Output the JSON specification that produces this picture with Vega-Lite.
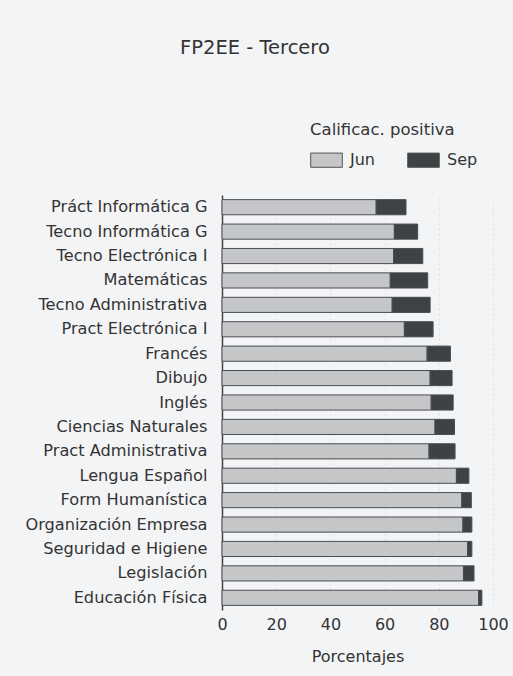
{
  "$schema": "https://vega.github.io/schema/vega-lite/v6.json",
  "width": 271,
  "height": 415,
  "autosize": {"type": "none"},
  "padding": {"left": 222, "top": 195, "right": 20, "bottom": 66},
  "background": "#f3f4f6",
  "config": {"view": {"stroke": null}},
  "title": {
    "text": "FP2EE - Tercero",
    "anchor": "start",
    "frame": "group",
    "dx": -42,
    "offset": 64,
    "font": "DejaVu Sans",
    "fontSize": 19.5,
    "fontWeight": "normal",
    "color": "#333333"
  },
  "data": {
    "values": [
      {"Asignatura": "Práct Informática G", "Periodo": "Jun", "Porcentaje": 56.9},
      {"Asignatura": "Práct Informática G", "Periodo": "Sep", "Porcentaje": 11.0},
      {"Asignatura": "Tecno Informática G", "Periodo": "Jun", "Porcentaje": 63.6},
      {"Asignatura": "Tecno Informática G", "Periodo": "Sep", "Porcentaje": 8.6},
      {"Asignatura": "Tecno Electrónica I", "Periodo": "Jun", "Porcentaje": 63.3},
      {"Asignatura": "Tecno Electrónica I", "Periodo": "Sep", "Porcentaje": 10.8},
      {"Asignatura": "Matemáticas", "Periodo": "Jun", "Porcentaje": 62.1},
      {"Asignatura": "Matemáticas", "Periodo": "Sep", "Porcentaje": 13.8},
      {"Asignatura": "Tecno Administrativa", "Periodo": "Jun", "Porcentaje": 62.8},
      {"Asignatura": "Tecno Administrativa", "Periodo": "Sep", "Porcentaje": 14.0},
      {"Asignatura": "Pract Electrónica I", "Periodo": "Jun", "Porcentaje": 67.3},
      {"Asignatura": "Pract Electrónica I", "Periodo": "Sep", "Porcentaje": 10.6},
      {"Asignatura": "Francés", "Periodo": "Jun", "Porcentaje": 75.7},
      {"Asignatura": "Francés", "Periodo": "Sep", "Porcentaje": 8.6},
      {"Asignatura": "Dibujo", "Periodo": "Jun", "Porcentaje": 76.8},
      {"Asignatura": "Dibujo", "Periodo": "Sep", "Porcentaje": 8.1},
      {"Asignatura": "Inglés", "Periodo": "Jun", "Porcentaje": 77.2},
      {"Asignatura": "Inglés", "Periodo": "Sep", "Porcentaje": 8.1},
      {"Asignatura": "Ciencias Naturales", "Periodo": "Jun", "Porcentaje": 78.6},
      {"Asignatura": "Ciencias Naturales", "Periodo": "Sep", "Porcentaje": 7.2},
      {"Asignatura": "Pract Administrativa", "Periodo": "Jun", "Porcentaje": 76.4},
      {"Asignatura": "Pract Administrativa", "Periodo": "Sep", "Porcentaje": 9.6},
      {"Asignatura": "Lengua Español", "Periodo": "Jun", "Porcentaje": 86.5},
      {"Asignatura": "Lengua Español", "Periodo": "Sep", "Porcentaje": 4.6},
      {"Asignatura": "Form Humanística", "Periodo": "Jun", "Porcentaje": 88.5},
      {"Asignatura": "Form Humanística", "Periodo": "Sep", "Porcentaje": 3.5},
      {"Asignatura": "Organización Empresa", "Periodo": "Jun", "Porcentaje": 88.9},
      {"Asignatura": "Organización Empresa", "Periodo": "Sep", "Porcentaje": 3.3},
      {"Asignatura": "Seguridad e Higiene", "Periodo": "Jun", "Porcentaje": 90.6},
      {"Asignatura": "Seguridad e Higiene", "Periodo": "Sep", "Porcentaje": 1.6},
      {"Asignatura": "Legislación", "Periodo": "Jun", "Porcentaje": 89.1},
      {"Asignatura": "Legislación", "Periodo": "Sep", "Porcentaje": 3.9},
      {"Asignatura": "Educación Física", "Periodo": "Jun", "Porcentaje": 94.7},
      {"Asignatura": "Educación Física", "Periodo": "Sep", "Porcentaje": 1.2}
    ]
  },
  "mark": {"type": "bar", "stroke": "#4a4d50", "strokeWidth": 1},
  "encoding": {
    "y": {
      "field": "Asignatura",
      "type": "nominal",
      "sort": null,
      "scale": {"paddingInner": 0.38, "paddingOuter": 0.19},
      "axis": {
        "title": null,
        "ticks": false,
        "domainColor": "#444444",
        "domainWidth": 1.5,
        "labelPadding": 15,
        "labelLimit": 260,
        "labelFont": "DejaVu Sans",
        "labelFontSize": 16.2,
        "labelColor": "#333333",
        "grid": false
      }
    },
    "x": {
      "field": "Porcentaje",
      "type": "quantitative",
      "stack": "zero",
      "scale": {"domain": [0, 100], "nice": false},
      "axis": {
        "title": "Porcentajes",
        "values": [0, 20, 40, 60, 80, 100],
        "domain": false,
        "ticks": false,
        "labelPadding": 6,
        "labelFlush": false,
        "labelFont": "DejaVu Sans",
        "labelFontSize": 16,
        "labelColor": "#333333",
        "titleFont": "DejaVu Sans",
        "titleFontSize": 16,
        "titleFontWeight": "normal",
        "titleColor": "#333333",
        "titlePadding": 16,
        "grid": true,
        "gridColor": "#d3d6d9",
        "gridDash": [2, 3],
        "gridOpacity": 0.7
      }
    },
    "color": {
      "field": "Periodo",
      "type": "nominal",
      "scale": {"domain": ["Jun", "Sep"], "range": ["#c4c6c8", "#3f4245"]},
      "legend": {
        "orient": "none",
        "legendX": 88,
        "legendY": -73,
        "direction": "horizontal",
        "columns": 2,
        "title": "Calificac. positiva",
        "titleFont": "DejaVu Sans",
        "titleFontSize": 16.5,
        "titleFontWeight": "normal",
        "titleColor": "#333333",
        "titlePadding": 5,
        "labelFont": "DejaVu Sans",
        "labelFontSize": 16,
        "labelColor": "#333333",
        "labelOffset": 7,
        "symbolType": "M-1,-0.45H1V0.45H-1Z",
        "symbolSize": 1000,
        "symbolStrokeColor": "#555555",
        "symbolStrokeWidth": 1,
        "symbolOpacity": 1,
        "columnPadding": 30
      }
    },
    "order": {"field": "Periodo", "sort": "ascending"}
  }
}
